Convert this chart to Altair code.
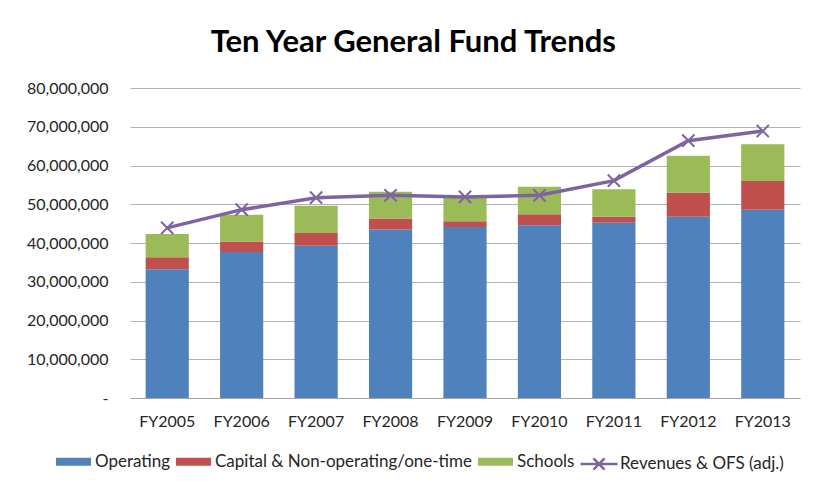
import altair as alt
import pandas as pd

years = ["FY2005", "FY2006", "FY2007", "FY2008", "FY2009", "FY2010", "FY2011", "FY2012", "FY2013"]
operating = [33200000, 37700000, 39300000, 43500000, 44100000, 44600000, 45200000, 46800000, 48600000]
capital = [3100000, 2700000, 3300000, 2800000, 1500000, 2800000, 1600000, 6200000, 7400000]
schools = [6000000, 6900000, 7000000, 6900000, 6000000, 7100000, 7100000, 9500000, 9500000]
revenues = [43900000, 48600000, 51700000, 52300000, 51900000, 52300000, 56100000, 66400000, 68900000]

bar_series = ["Operating", "Capital & Non-operating/one-time", "Schools"]
bar_colors = ["#4F81BD", "#C0504D", "#9BBB59"]
line_name = "Revenues & OFS (adj.)"
line_color = "#7F63A1"
y_ticks = [0, 10000000, 20000000, 30000000, 40000000, 50000000, 60000000, 70000000, 80000000]

rows = []
for i, y in enumerate(years):
    for k, (name, vals) in enumerate(zip(bar_series, [operating, capital, schools])):
        rows.append({"year": y, "series": name, "value": vals[i], "ord": k})
bars_df = pd.DataFrame(rows)
line_df = pd.DataFrame({"year": years, "value": revenues, "series": [line_name] * len(years)})

FONT = "Lato"

x_axis = alt.Axis(labelAngle=0, labelFont=FONT, labelFontSize=16, labelColor="#262626",
                  labelPadding=15, ticks=False, domainColor="#A6A6A6", grid=False)
y_axis = alt.Axis(values=y_ticks, labelFont=FONT, labelFontSize=16, labelColor="#262626",
                  labelPadding=22, ticks=False, domain=False, gridColor="#B3B3B3",
                  labelOverlap=False, tickCount=9,
                  labelExpr="datum.value == 0 ? '-\u00a0\u00a0\u00a0' : format(datum.value, ',')")
x_scale = alt.Scale(paddingInner=0.42, paddingOuter=0.21)
y_scale = alt.Scale(domain=[0, 80000000], nice=False)

bars = alt.Chart(bars_df).mark_bar().encode(
    x=alt.X("year:N", sort=years, title=None, scale=x_scale, axis=x_axis),
    y=alt.Y("sum(value):Q", stack="zero", scale=y_scale, title=None, axis=y_axis),
    fill=alt.Fill("series:N", scale=alt.Scale(domain=bar_series, range=bar_colors),
                  legend=alt.Legend(title=None, orient="none", legendX=-74, legendY=356,
                                    direction="horizontal", symbolType="M-1,-0.23H1V0.23H-1Z",
                                    symbolSize=1225, symbolStrokeWidth=0, labelFont=FONT,
                                    labelFontSize=17, labelColor="#262626", labelOffset=4,
                                    labelLimit=0, columnPadding=5)),
    order=alt.Order("ord:Q", sort="ascending"),
)

line = alt.Chart(line_df).mark_line(strokeWidth=3.5).encode(
    x=alt.X("year:N", sort=years, title=None, scale=x_scale, axis=x_axis),
    y=alt.Y("value:Q", scale=y_scale, title=None, axis=y_axis),
    stroke=alt.Stroke("series:N", scale=alt.Scale(domain=[line_name], range=[line_color]),
                      legend=alt.Legend(title=None, orient="none", legendX=449, legendY=356,
                                        symbolType="M-1,0H1M-0.3,-0.3L0.3,0.3M-0.3,0.3L0.3,-0.3",
                                        symbolSize=1369, symbolStrokeWidth=2.5, labelFont=FONT,
                                        labelFontSize=17, labelColor="#262626", labelOffset=1,
                                        labelLimit=0)),
)

points = alt.Chart(line_df).mark_point(
    shape="M-1,-1L1,1M-1,1L1,-1", filled=False, size=150, strokeWidth=2, color="#8064A2", opacity=1
).encode(
    x=alt.X("year:N", sort=years, title=None, scale=x_scale, axis=x_axis),
    y=alt.Y("value:Q", scale=y_scale, title=None, axis=y_axis),
)

chart = alt.layer(bars, line, points).properties(
    width=670,
    height=310,
    autosize=alt.AutoSizeParams(type="none"),
    padding={"left": 122, "top": 80, "right": 9, "bottom": 79},
    title=alt.TitleParams("Ten Year General Fund Trends", font=FONT, fontSize=31, fontWeight="bold",
                          color="#000000", anchor="middle", frame="bounds", offset=21),
).configure(background="white").configure_view(stroke=None)

chart.save("out.html", embed_options={"renderer": "svg", "actions": False})
